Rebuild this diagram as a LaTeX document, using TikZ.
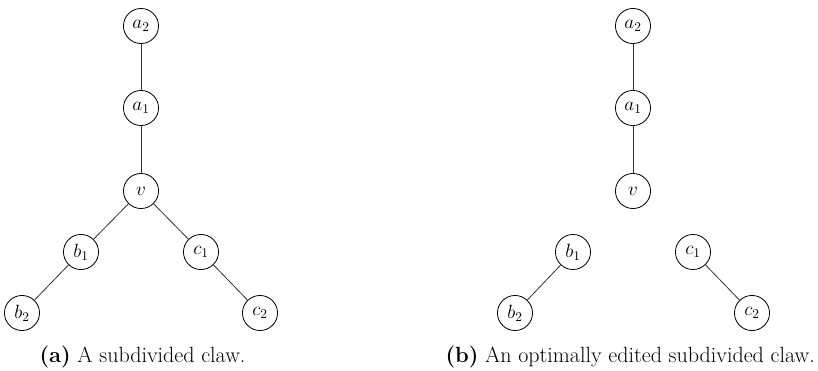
\documentclass[tikz,border=0pt]{standalone}
\begin{document}
\begin{tikzpicture}[x=0.75pt,y=-0.75pt,
  vtx/.style={draw=black,circle,line width=0.6pt,minimum size=26.3pt,inner sep=0pt,
    font=\fontsize{14}{16}\selectfont},
  edge/.style={draw=black!80,line width=0.6pt},
  captext/.style={inner sep=0pt,font=\fontsize{16.5}{19}\selectfont}]
\useasboundingbox (0,0) rectangle (818,371);
% (a) the subdivided claw
\node[vtx] (a2) at (141,26) {$a_2$};
\node[vtx] (a1) at (141,108) {$a_1$};
\node[vtx] (v)  at (141,191) {$v$};
\node[vtx] (b1) at (81,252) {$b_1$};
\node[vtx] (c1) at (201,252) {$c_1$};
\node[vtx] (b2) at (22,313) {$b_2$};
\node[vtx] (c2) at (260,313) {$c_2$};
\draw[edge] (a2) -- (a1);
\draw[edge] (a1) -- (v);
\draw[edge] (v) -- (b1);
\draw[edge] (v) -- (c1);
\draw[edge] (b1) -- (b2);
\draw[edge] (c1) -- (c2);
\node[captext,anchor=base] (capa) at (142.5,362) {\textbf{(a)} A subdivided claw.};
% (b) after the optimal edit
\node[vtx] (ra2) at (633,26) {$a_2$};
\node[vtx] (ra1) at (633,108) {$a_1$};
\node[vtx] (rv)  at (633,191) {$v$};
\node[vtx] (rb1) at (573,252) {$b_1$};
\node[vtx] (rc1) at (693,252) {$c_1$};
\node[vtx] (rb2) at (515,313) {$b_2$};
\node[vtx] (rc2) at (752,313) {$c_2$};
\draw[edge] (ra2) -- (ra1);
\draw[edge] (ra1) -- (rv);
\draw[edge] (rb1) -- (rb2);
\draw[edge] (rc1) -- (rc2);
\node[captext,anchor=base east] (capb) at (815,362) {\textbf{(b)} An optimally edited subdivided claw.};
\end{tikzpicture}
\end{document}
